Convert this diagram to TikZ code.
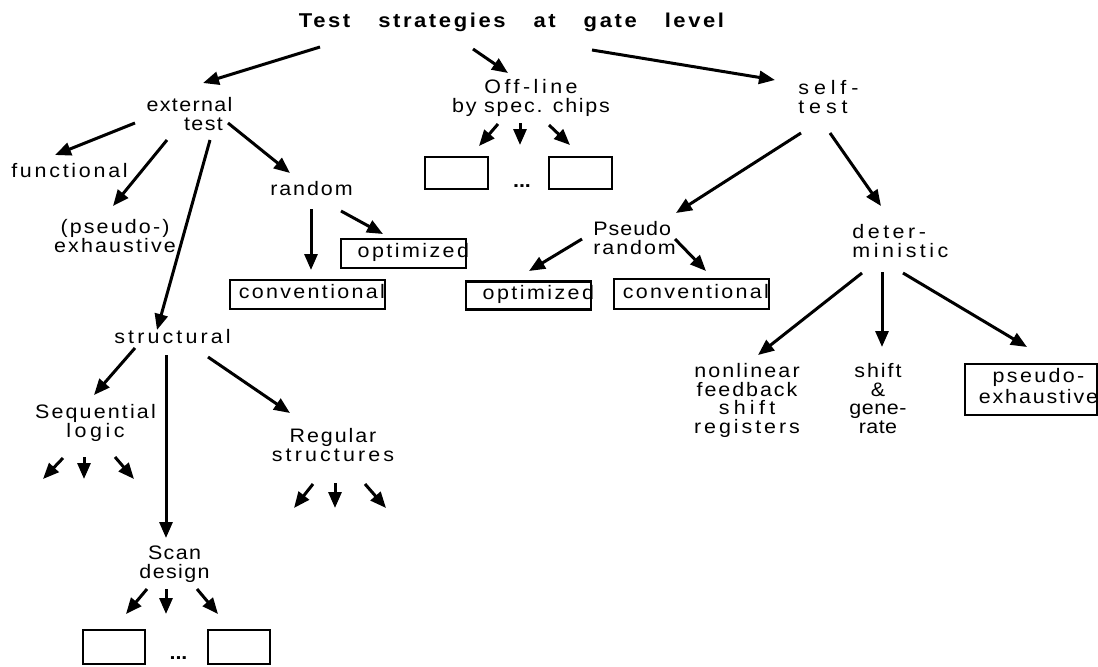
\documentclass[tikz,border=0pt]{standalone}
\usepackage{fontspec}
\setmainfont[FakeStretch=1.1]{Liberation Sans}
\usetikzlibrary{arrows.meta}
\newcommand{\lsp}[1]{\addfontfeatures{LetterSpace=#1}}
% arrow from a point near one node to a point near another (offsets in picture units)
\newcommand{\conn}[4]{\draw[arr] ([shift={(#2)}]#1) -- ([shift={(#4)}]#3);}
\setlength{\lineskiplimit}{-100pt}
\setlength{\lineskip}{0pt}

\begin{document}
\begin{tikzpicture}[x=0.5pt,y=-0.5pt,
  lbl/.style={inner sep=0pt, align=center,
    font=\fontsize{9.75}{9.25}\selectfont\lsp{#1}},
  lbl/.default=11,
  dots/.style={inner sep=0pt, anchor=base, font=\fontsize{9.75}{9.25}\selectfont\bfseries},
  arr/.style={line width=1.5pt, -{Triangle[length=8pt,width=6.5pt]}},
  tbox/.style={draw, line width=1.2pt, inner sep=0pt, align=right,
    text height=7pt, text depth=3pt, font=\fontsize{9.75}{9.25}\selectfont},
  ebox/.style={draw, line width=1.2pt, inner sep=0pt, minimum width=31pt, minimum height=17pt},
]
\useasboundingbox (0,0) rectangle (1098,666);

% title
\node[anchor=base, inner sep=0pt, font=\fontsize{10}{10}\selectfont\bfseries\lsp{13}] (title) at (511.5,27)
  {Test\hspace{14pt}strategies\hspace{14pt}at\hspace{14pt}gate\hspace{14pt}level};

% external test branch
\node[lbl=7] (ext) at (189.5,114) {external\\{\hspace*{14pt}test}};
\node[lbl=14, anchor=base] (func) at (69.5,177) {functional};
\node[lbl=11] (pex) at (115,236) {(pseudo-)\\exhaustive};
\node[lbl=10, anchor=base] (rnd) at (311.5,195) {random};
\node[tbox, text width=62.5pt, minimum height=14.5pt] (optL) at (403.5,253.5) {\lsp{12.5}optimized\kern-1.5pt};
\node[tbox, text width=77.5pt, minimum height=14.5pt] (convL) at (307.5,294.5) {\lsp{12}conventional};
\node[lbl=16, anchor=base] (struct) at (172.5,343) {structural};
\node[lbl] (seq) at (95.5,423) {{\lsp{11}Sequential}\\{\lsp{18}logic}};
\node[lbl] (reg) at (333,445) {{\lsp{10}Regular}\\{\lsp{16}structures}};
\node[lbl=7] (scan) at (174.5,564) {Scan\\design};
\node[ebox] (sb1) at (114,647) {};
\node[ebox] (sb2) at (239,647) {};
\node[dots] (sdots) at (178.5,659) {...};

% off-line branch
\node[lbl] (off) at (531,98) {{\lsp{18}Off-line}\\{\lsp{9}by spec. chips}};
\node[ebox, minimum width=31.5pt, minimum height=16pt] (ob1) at (456.5,173) {};
\node[ebox, minimum width=31.5pt, minimum height=16pt] (ob2) at (580.5,173) {};
\node[dots] (odots) at (522,187) {...};

% self-test branch
\node[lbl=25, align=left, anchor=west] (self) at (798,97) {self-\\test};
\node[lbl, align=left, anchor=west] (prnd) at (593,238) {{\lsp{5}Pseudo}\\{\lsp{10}random}};
\node[tbox, text width=62.5pt, minimum height=14pt] (optR) at (528.5,295.5) {\lsp{12.5}optimized\kern-1.5pt};
\node[tbox, text width=77.5pt, minimum height=15pt] (convR) at (691.5,294) {\lsp{12}conventional};
\node[lbl=18, align=left, anchor=west] (det) at (852,241) {deter-\\ministic};
\node[lbl] (nl) at (747,400.5)
  {{\lsp{11}nonlinear}\\{\lsp{10}feedback}\\{\lsp{22}shift}\\{\lsp{15}registers}};
\node[lbl] (sg) at (878,398.5) {{\lsp{10}shift}\\\&\\{\lsp{3}gene-}\\{\lsp{2}rate}};
\node[ebox, minimum width=66pt, minimum height=25.5pt] (pebox) at (1031,389.5) {};
\node[lbl, font=\fontsize{9.75}{10.5}\selectfont] (pe) at (1038.5,386)
  {{\lsp{12}pseudo-}\\{\lsp{9.5}exhaustive}};

% connectors
\conn{title.base}{-191.5,20}{ext.center}{13.5,-31}
\conn{title.base}{-38.5,22}{off.center}{-23,-25}
\conn{title.base}{80.5,23}{self.west}{-23,-17}

\conn{ext.center}{-54.5,9}{func.base}{-14.5,-22}
\conn{ext.center}{-22.5,26}{pex.center}{-2,-30}
\conn{ext.center}{20.5,26}{struct.base}{-15.5,-13}
\conn{ext.center}{38.5,9}{rnd.base}{-21.5,-22}
\conn{rnd.base}{-0.5,14}{convL.center}{3.5,-24.5}
\conn{rnd.base}{29.5,16}{optL.center}{-20.5,-19.5}

\conn{struct.base}{-37.5,5}{seq.center}{-1.5,-28}
\conn{struct.base}{-6.5,12}{scan.center}{-8.5,-26}
\conn{struct.base}{35.5,14}{reg.center}{-43,-32}

\conn{seq.center}{-32.5,35}{seq.center}{-52.5,56}
\conn{seq.center}{-11.5,34}{seq.center}{-11.5,56}
\conn{seq.center}{19.5,34}{seq.center}{38.5,56}

\conn{reg.center}{-20,39}{reg.center}{-39,63}
\conn{reg.center}{2,38}{reg.center}{2,63}
\conn{reg.center}{32,39}{reg.center}{53,63}

\conn{scan.center}{-27.5,25}{sb1.center}{12,-33}
\conn{scan.center}{-8.5,25}{sdots.base}{-12.5,-45}
\conn{scan.center}{22.5,25}{sb2.center}{-21,-33}

\conn{off.center}{-33,26}{ob1.center}{22.5,-27}
\conn{off.center}{-11,25}{odots.base}{-2,-42}
\conn{off.center}{18,27}{ob2.center}{-10.5,-28}

\conn{self.west}{3,36}{prnd.west}{83,-25}
\conn{self.west}{32,36}{det.west}{29,-35}
\conn{prnd.west}{-11,1}{optR.center}{0.5,-24.5}
\conn{prnd.west}{82,1}{convR.center}{14.5,-23}
\conn{det.west}{10,32}{nl.center}{11,-45.5}
\conn{det.west}{30,31}{sg.center}{4,-51.5}
\conn{det.west}{51,32}{pebox.center}{-4,-42.5}
\end{tikzpicture}
\end{document}
